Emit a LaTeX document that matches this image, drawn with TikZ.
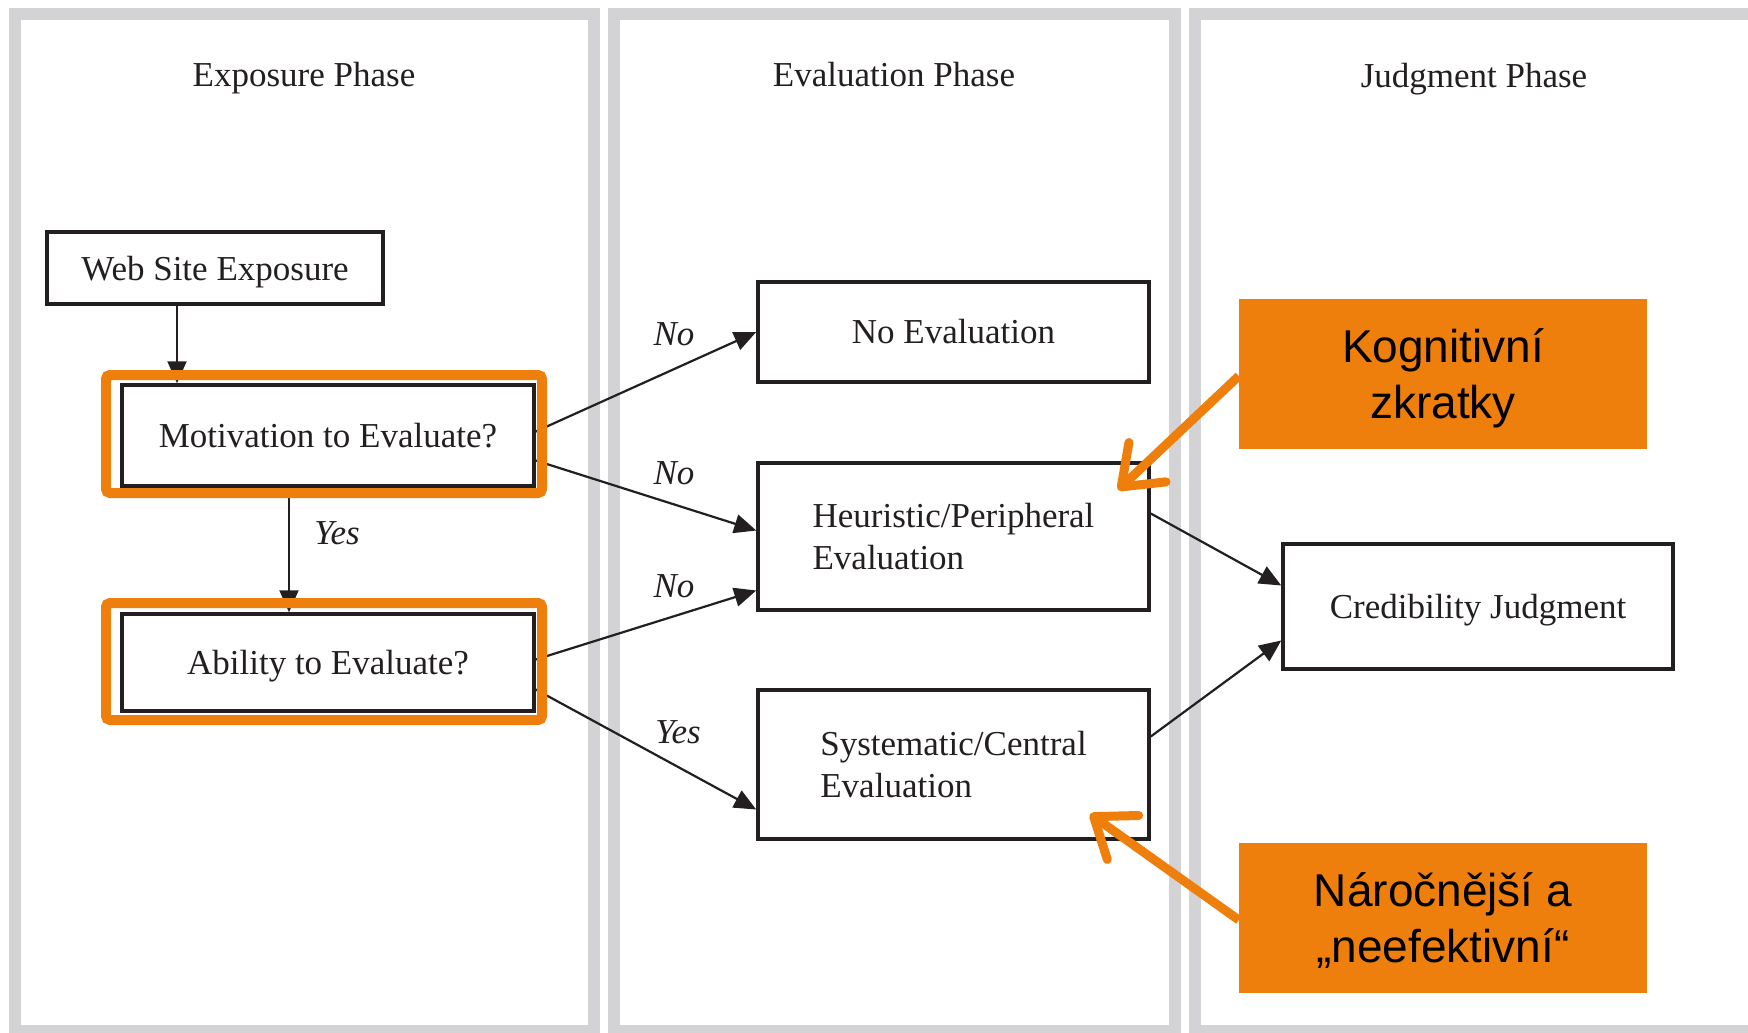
\documentclass[tikz,border=0pt]{standalone}
\usepackage{fontspec}
\setmainfont{Liberation Serif}
\newfontfamily\calloutfont{Liberation Sans}
\usetikzlibrary{arrows.meta}
\definecolor{framegray}{RGB}{211,211,213}
\definecolor{hl}{RGB}{238,127,13}
\definecolor{ink}{RGB}{35,31,32}
\tikzset{
  panel/.style={draw=framegray, line width=12pt},
  box/.style={draw=ink, line width=3.5pt, inner sep=0pt, text=ink,
              font=\fontsize{35}{42}\selectfont, align=left},
  conn/.style={draw=ink, line width=2.2pt, -{Triangle[length=22pt,width=19pt]}},
  hlbox/.style={draw=hl, line width=10pt, rounded corners=4pt, inner sep=0pt},
  callout/.style={fill=hl, text=black, inner sep=0pt, align=center, text depth=0pt,
                  font=\calloutfont\fontsize{46}{56}\selectfont,
                  minimum width=408pt, minimum height=150pt},
  oarrow/.style={draw=hl, line width=9pt,
                 -{Straight Barb[length=36pt,width=54pt,round]}},
  phase/.style={text=ink, inner sep=0pt, anchor=base, font=\fontsize{35}{42}\selectfont},
  lbl/.style={text=ink, inner sep=0pt, font=\itshape\fontsize{35}{42}\selectfont}
}
\begin{document}
\begin{tikzpicture}[x=1pt,y=-1pt]
\useasboundingbox (0,0) rectangle (1748,1033);
\fill[white] (0,0) rectangle (1748,1033);
% panels
\draw[panel] (14.5,14) rectangle (594,1031);
\draw[panel] (614,14) rectangle (1175,1031);
\draw[panel] (1194.5,14) rectangle (1790,1031);
% phase titles
\node[phase] (t1) at (304,86) {Exposure Phase};
\node[phase] (t2) at (894,86) {Evaluation Phase};
\node[phase] (t3) at (1474,88) {Judgment Phase};
% boxes
\node[box, text depth=0pt, minimum width=336pt, minimum height=72pt] (web) at (215,268) {Web Site Exposure};
\node[box, minimum width=412pt, minimum height=101pt] (mot) at (328,435.5) {Motivation to Evaluate?};
\node[box, text depth=0pt, minimum width=412pt, minimum height=97pt] (abl) at (328,662.5) {Ability to Evaluate?};
\node[box, minimum width=391pt, minimum height=100pt] (noev) at (953.5,332) {No Evaluation};
\node[box, minimum width=391pt, minimum height=147pt] (heur) at (953.5,536.5) {Heuristic/Peripheral\\Evaluation};
\node[box, minimum width=391pt, minimum height=149pt] (syst) at (953.5,764.5) {Systematic/Central\\Evaluation};
\node[box, text depth=0pt, minimum width=390pt, minimum height=125pt] (cred) at (1478,606.5) {Credibility Judgment};
% connectors
\draw[conn] ([xshift=-38pt]web.south) -- ([xshift=-151pt]mot.north);
\draw[conn] ([xshift=-39pt]mot.south) -- ([xshift=-39pt]abl.north);
\draw[conn] ([yshift=4pt]mot.east) -- (noev.west);
\draw[conn] ([yshift=-25pt]mot.east) -- ([yshift=6pt]heur.west);
\draw[conn] ([yshift=3pt]abl.east) -- ([yshift=-54pt]heur.west);
\draw[conn] ([yshift=-27pt]abl.east) -- ([yshift=-45pt]syst.west);
\draw[conn] ([yshift=23pt]heur.east) -- ([yshift=21pt]cred.west);
\draw[conn] ([yshift=28pt]syst.east) -- ([yshift=-34pt]cred.west);
% labels
\node[lbl] (l1) at (337,533) {Yes};
\node[lbl] (l2) at (674,334) {No};
\node[lbl] (l3) at (674,473) {No};
\node[lbl] (l4) at (674,586) {No};
\node[lbl] (l5) at (678,732) {Yes};
% highlights
\node[hlbox, minimum width=436pt, minimum height=118pt] (hl1) at (324,434) {};
\node[hlbox, minimum width=436pt, minimum height=117pt] (hl2) at (324,661.5) {};
% callouts
\node[callout] (kog) at (1443,374) {Kognitivní\\zkratky};
\node[callout] (nar) at (1443,918) {Náročnější a\\„neefektivní“};
\coordinate (kogtip) at (1118,490);
\coordinate (nartip) at (1090,814);
\draw[oarrow] ([yshift=-2pt]kog.west) -- (kogtip);
\draw[oarrow] ([yshift=-2pt]nar.west) -- (nartip);
\end{tikzpicture}
\end{document}
